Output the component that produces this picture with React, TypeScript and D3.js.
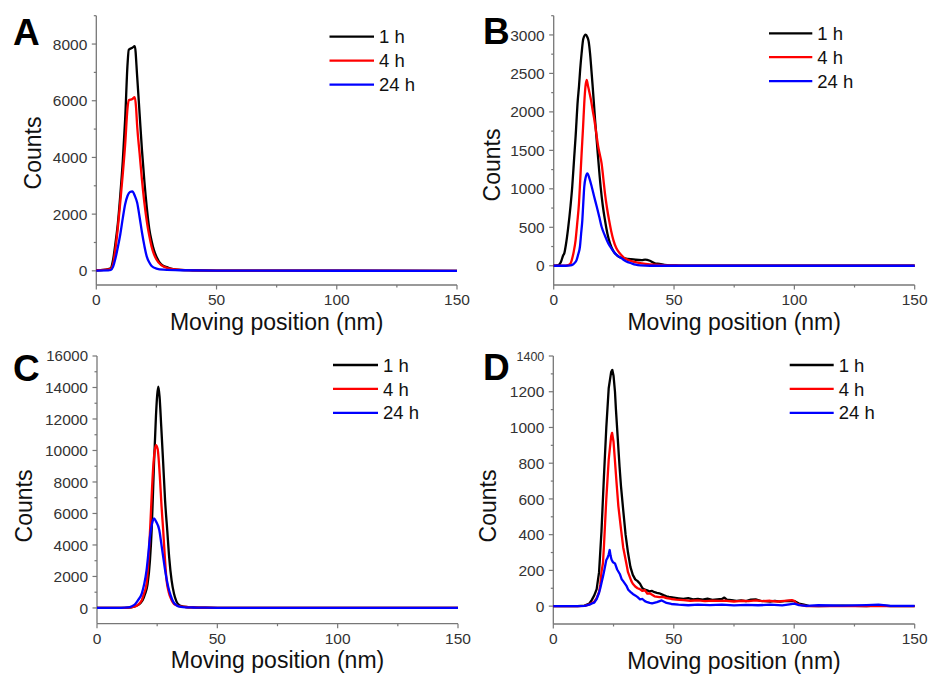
import { useEffect, useRef } from "react";
import * as d3 from "d3";

type Pt = [number, number];

const seriesNames = ["1 h", "4 h", "24 h"];
const seriesColors = ["#000000", "#ff0000", "#0000ff"];
const xTicks = [0, 50, 100, 150];
const xMinorTicks = [25, 75, 125];

// ---- panel A
const aYTicks = [0, 2000, 4000, 6000, 8000];
const a1h: Pt[] = [[0, 20], [3, 30], [5, 60], [6, 90], [7, 400], [8, 1000], [9, 1700], [10, 2700], [11, 3850], [12, 5350], [13, 7300], [13.5, 7800], [15, 7870], [16, 7930], [17, 6850], [18, 5550], [19, 4250], [20, 3150], [21, 2230], [22, 1500], [23, 1050], [24, 720], [25, 500], [27, 230], [30, 110], [32, 60], [35, 30], [40, 20], [50, 10], [100, 5], [150, 0]];
const a4h: Pt[] = [[0, 20], [3, 30], [5, 50], [6, 70], [7, 250], [8, 800], [9, 1550], [10, 2450], [11, 3400], [12, 4450], [13, 5750], [13.5, 6020], [15, 6060], [16, 6130], [16.5, 5800], [17, 5100], [18, 4150], [19, 3200], [20, 2400], [21, 1750], [22, 1250], [23, 850], [24, 580], [25, 400], [27, 200], [30, 90], [35, 35], [40, 15], [50, 8], [150, 0]];
const a24h: Pt[] = [[0, 10], [5, 15], [6, 30], [7, 150], [8, 450], [9, 850], [10, 1300], [11, 1850], [12, 2350], [13, 2650], [14, 2780], [15, 2800], [16, 2650], [17, 2400], [18, 1900], [19, 1350], [20, 880], [21, 500], [22, 300], [23, 170], [25, 80], [28, 40], [35, 20], [50, 10], [150, 0]];

// ---- panel B
const bYTicks = [0, 500, 1000, 1500, 2000, 2500, 3000];
const b1h: Pt[] = [[0, 0], [1, 3], [2, 10], [3, 50], [4, 140], [4.4, 161], [5, 260], [6, 490], [7, 780], [7.7, 1027], [8.5, 1400], [9.1, 1678], [10, 2150], [10.5, 2328], [11, 2550], [11.6, 2762], [12.3, 2950], [13.3, 3005], [14, 2970], [14.5, 2920], [15.1, 2762], [15.7, 2530], [16.2, 2328], [17.2, 1894], [18.3, 1461], [19.5, 1027], [20.4, 780], [21.3, 594], [22.3, 420], [23.4, 291], [24.8, 190], [26.2, 139], [27.5, 110], [29.6, 96], [32, 85], [34, 78], [36.6, 74], [38, 80], [40, 65], [42.1, 31], [44, 25], [46, 12], [48, 5], [52, 3], [60, 0], [150, 0]];
const b4h: Pt[] = [[0, 0], [5, 3], [6, 9], [7, 30], [7.5, 74], [8.3, 180], [9.1, 334], [9.8, 560], [10.5, 811], [11, 1100], [11.6, 1461], [12.2, 1800], [12.7, 2112], [13.2, 2330], [13.7, 2415], [14.3, 2330], [15, 2230], [15.5, 2155], [16.2, 2020], [16.9, 1894], [17.7, 1720], [18.5, 1548], [19.2, 1440], [19.9, 1331], [20.6, 1140], [21.3, 941], [22.1, 760], [23, 594], [23.9, 450], [24.8, 334], [26, 230], [27.5, 161], [29, 110], [31, 74], [33.5, 50], [36.6, 31], [40, 18], [45, 9], [50, 4], [60, 0], [150, 0]];
const b24h: Pt[] = [[0, 0], [5, 0], [6, 2], [7.5, 9], [8.5, 30], [9.5, 74], [10.2, 150], [10.9, 247], [11.4, 420], [11.9, 594], [12.3, 820], [12.7, 1027], [13.3, 1150], [14, 1201], [14.8, 1140], [15.8, 1027], [16.8, 900], [17.9, 767], [18.9, 640], [19.9, 507], [21.3, 390], [22.7, 291], [24.1, 220], [25.5, 161], [26.8, 125], [28.2, 96], [30, 60], [32.4, 31], [34, 15], [36, 5], [40, 0], [150, 0]];

// ---- panel C
const cYTicks = [0, 2000, 4000, 6000, 8000, 10000, 12000, 14000, 16000];
const c1h: Pt[] = [[0, 0], [10, 5], [13, 20], [15, 60], [17, 180], [18, 300], [19, 500], [20, 900], [21, 1500], [22, 3000], [22.7, 4900], [23.2, 7000], [23.7, 9200], [24.5, 12200], [25, 13500], [25.5, 14050], [26, 13400], [26.7, 11500], [27.5, 9200], [28.3, 6800], [29.2, 4900], [30, 3200], [31, 1750], [32, 900], [33, 420], [34, 200], [35, 120], [37, 60], [40, 40], [45, 20], [50, 10], [150, 0]];
const c4h: Pt[] = [[0, 0], [10, 5], [13, 20], [15, 60], [17, 200], [18, 350], [18.6, 490], [19.5, 900], [20.6, 1550], [21.2, 2600], [21.7, 3880], [22.2, 5400], [22.7, 7060], [23.3, 8800], [24, 10000], [24.5, 10340], [25.2, 10100], [26.2, 8120], [26.8, 6500], [27.5, 4940], [28.2, 3200], [28.9, 1760], [29.8, 1000], [31, 490], [32, 260], [33, 170], [34.5, 106], [37, 60], [40, 40], [45, 20], [50, 10], [150, 0]];
const c24h: Pt[] = [[0, 0], [10, 5], [13, 30], [14.5, 110], [15.8, 235], [17, 480], [18.6, 915], [19.6, 1500], [20.6, 2397], [21.3, 3400], [22, 4514], [22.8, 5300], [23.7, 5680], [24.5, 5500], [25.9, 4940], [26.7, 4100], [27.5, 3242], [28.5, 2200], [29.6, 1335], [30.6, 800], [31.7, 384], [33, 170], [34.9, 64], [37, 40], [40, 30], [45, 15], [50, 8], [150, 0]];

// ---- panel D
const dYTicks = [0, 200, 400, 600, 800, 1000, 1200, 1400];
const d1h: Pt[] = [[0, 0], [10, 0], [13, 3], [15, 15], [16, 35], [17, 60], [18, 95], [19, 190], [20, 420], [21, 720], [22, 1000], [23, 1220], [24, 1310], [24.5, 1322], [25, 1290], [25.6, 1200], [26, 1100], [26.7, 950], [27.5, 780], [28.1, 670], [29, 540], [29.5, 470], [30, 400], [31, 300], [32, 220], [33, 175], [34, 150], [35, 140], [36, 125], [37, 100], [38, 92], [39, 88], [40, 82], [41, 85], [42, 78], [43, 74], [44, 72], [45, 66], [46, 60], [47, 55], [48, 52], [50, 48], [52, 44], [54, 40], [56, 45], [58, 38], [60, 40], [62, 36], [64, 42], [66, 35], [68, 38], [70, 40], [71, 48], [72, 36], [74, 34], [76, 30], [78, 32], [80, 28], [82, 36], [84, 38], [86, 30], [88, 28], [90, 26], [92, 30], [94, 25], [96, 28], [98, 30], [100, 28], [102, 14], [104, 8], [106, 2], [110, 0], [120, 3], [130, 0], [135, 4], [140, 0], [150, 0]];
const d4h: Pt[] = [[0, 0], [10, 0], [13, 2], [15, 10], [16, 18], [17, 25], [18, 45], [19, 80], [19.5, 120], [20, 190], [20.6, 240], [21, 330], [22, 600], [23, 820], [24, 950], [24.4, 970], [25, 920], [25.5, 830], [26.2, 700], [27, 560], [28.2, 420], [29, 330], [30.3, 240], [31, 190], [32.4, 140], [33, 125], [34, 110], [35, 100], [35.9, 95], [37, 85], [38, 90], [39, 70], [40, 72], [42, 55], [44, 50], [45.5, 52], [47, 45], [49, 40], [51, 37], [54, 34], [57, 30], [60, 32], [63, 28], [66, 31], [69, 29], [72, 30], [75, 26], [78, 30], [81, 28], [84, 32], [87, 28], [90, 30], [93, 26], [96, 30], [99, 34], [100, 30], [101, 14], [103, 5], [105, 0], [150, 0]];
const d24h: Pt[] = [[0, 0], [10, 0], [13, 2], [15, 8], [16, 15], [17, 20], [18, 40], [19, 75], [19.5, 100], [20, 130], [20.6, 165], [21, 190], [22, 258], [22.5, 270], [23, 290], [23.4, 314], [23.8, 280], [24.2, 260], [24.8, 245], [25.6, 239], [26.5, 205], [27.6, 180], [28.4, 150], [29, 140], [30.3, 115], [31.1, 92], [32, 80], [33, 68], [34, 60], [35, 50], [36, 38], [37, 40], [38, 28], [39, 22], [40, 18], [41, 16], [43, 22], [45, 32], [46, 25], [47, 18], [49, 12], [52, 8], [56, 5], [60, 8], [65, 6], [70, 9], [75, 4], [80, 7], [85, 5], [90, 8], [95, 4], [98, 10], [100, 14], [102, 6], [105, 2], [110, 5], [120, 3], [130, 6], [135, 8], [140, 2], [150, 2]];

const panels = [
  { letter: "A", lx: 13, ly: 45, yDomain: [-500, 9000], yTicks: aYTicks, yMinor: 1000, topLabelSize: 15.5, series: [a1h, a4h, a24h], box: [96.3, 457, 15.7, 285], legend: [329.5, 374, 36.7, 24], counts: [40.5, 153], smooth: true },
  { letter: "B", lx: 483, ly: 44, yDomain: [-250, 3250], yTicks: bYTicks, yMinor: 250, topLabelSize: 15.5, series: [b1h, b4h, b24h], box: [553.7, 914.7, 15.7, 285], legend: [769, 812.3, 33.3, 23.9], counts: [499.5, 165], smooth: true },
  { letter: "C", lx: 13, ly: 381, yDomain: [-1000, 16000], yTicks: cYTicks, yMinor: 1000, topLabelSize: 15, series: [c1h, c4h, c24h], box: [97, 458, 356, 623.7], legend: [333, 378, 365, 23.9], counts: [31.5, 506], smooth: true },
  { letter: "D", lx: 483, ly: 380, yDomain: [-100, 1400], yTicks: dYTicks, yMinor: 100, topLabelSize: 12.5, series: [d1h, d4h, d24h], box: [553.3, 914.7, 356, 624], legend: [789.7, 833.7, 365, 23.9], counts: [496.3, 506], smooth: false },
];

const FONT = "'Liberation Sans', Arial, sans-serif";

const App = () => {
  const ref = useRef<SVGSVGElement>(null);

  useEffect(() => {
    const svg = d3.select(ref.current);
    svg.selectAll("*").remove();
    svg.append("rect").attr("width", 933).attr("height", 677).attr("fill", "#fff");

    panels.forEach((p) => {
      const [l, r, t, b] = p.box;
      const x = d3.scaleLinear().domain([0, 150]).range([l, r]);
      const y = d3.scaleLinear().domain(p.yDomain).range([b, t]);
      const g = svg.append("g").attr("font-family", FONT);

      // axis lines
      g.append("line").attr("x1", l).attr("x2", r).attr("y1", b).attr("y2", b)
        .attr("stroke", "#777").attr("stroke-width", 1.3);
      g.append("line").attr("x1", l).attr("x2", l).attr("y1", b).attr("y2", t)
        .attr("stroke", "#777").attr("stroke-width", 1.3);

      // x ticks
      xTicks.forEach((v) => {
        g.append("line").attr("x1", x(v)).attr("x2", x(v)).attr("y1", b).attr("y2", b + 4.5)
          .attr("stroke", "#777").attr("stroke-width", 1.2);
        g.append("text").attr("x", x(v)).attr("y", b + 20).attr("text-anchor", "middle")
          .attr("font-size", 15.5).attr("fill", "#333").text(v);
      });
      xMinorTicks.forEach((v) => {
        g.append("line").attr("x1", x(v)).attr("x2", x(v)).attr("y1", b).attr("y2", b + 2.5)
          .attr("stroke", "#777").attr("stroke-width", 1.2);
      });

      // y ticks
      const top = p.yTicks[p.yTicks.length - 1];
      const minor = d3.range(p.yMinor, p.yDomain[1] + 1, p.yMinor).filter((v) => !p.yTicks.includes(v));
      minor.forEach((v) => {
        g.append("line").attr("x1", l - 2.5).attr("x2", l).attr("y1", y(v)).attr("y2", y(v))
          .attr("stroke", "#777").attr("stroke-width", 1.2);
      });
      p.yTicks.forEach((v) => {
        g.append("line").attr("x1", l - 4.5).attr("x2", l).attr("y1", y(v)).attr("y2", y(v))
          .attr("stroke", "#777").attr("stroke-width", 1.2);
        g.append("text").attr("x", l - 9).attr("y", y(v)).attr("dy", "0.36em")
          .attr("text-anchor", "end").attr("font-size", v === top ? p.topLabelSize : 15.5)
          .attr("fill", "#333").text(v);
      });

      // axis titles
      g.append("text").attr("x", (l + r) / 2).attr("y", b + 44.5).attr("text-anchor", "middle")
        .attr("font-size", 23).attr("fill", "#111").text("Moving position (nm)");
      g.append("text").attr("transform", `translate(${p.counts[0]},${p.counts[1]}) rotate(-90)`)
        .attr("text-anchor", "middle").attr("font-size", 23).attr("fill", "#111").text("Counts");

      // panel letter
      g.append("text").attr("x", p.lx).attr("y", p.ly).attr("font-size", 37)
        .attr("font-weight", "bold").attr("fill", "#000").text(p.letter);

      // curves
      const line = d3.line<Pt>()
        .x((d) => x(d[0]))
        .y((d) => y(d[1]))
        .curve(p.smooth ? d3.curveMonotoneX : d3.curveLinear);
      p.series.forEach((s, i) => {
        g.append("path").attr("d", line(s)).attr("fill", "none")
          .attr("stroke", seriesColors[i]).attr("stroke-width", 2.3).attr("stroke-linejoin", "round");
      });

      // legend
      const [x1, x2, y0, dy] = p.legend;
      seriesNames.forEach((name, i) => {
        const yy = y0 + i * dy;
        g.append("line").attr("x1", x1).attr("x2", x2).attr("y1", yy).attr("y2", yy)
          .attr("stroke", seriesColors[i]).attr("stroke-width", 2.3);
        g.append("text").attr("x", x2 + 5).attr("y", yy).attr("dy", "0.36em")
          .attr("font-size", 18.5).attr("fill", "#111").text(name);
      });
    });
  }, []);

  return (
    <svg ref={ref} width={933} height={677}
      style={{ position: "absolute", left: 0, top: 0, background: "#fff" }} />
  );
};

export default App;
